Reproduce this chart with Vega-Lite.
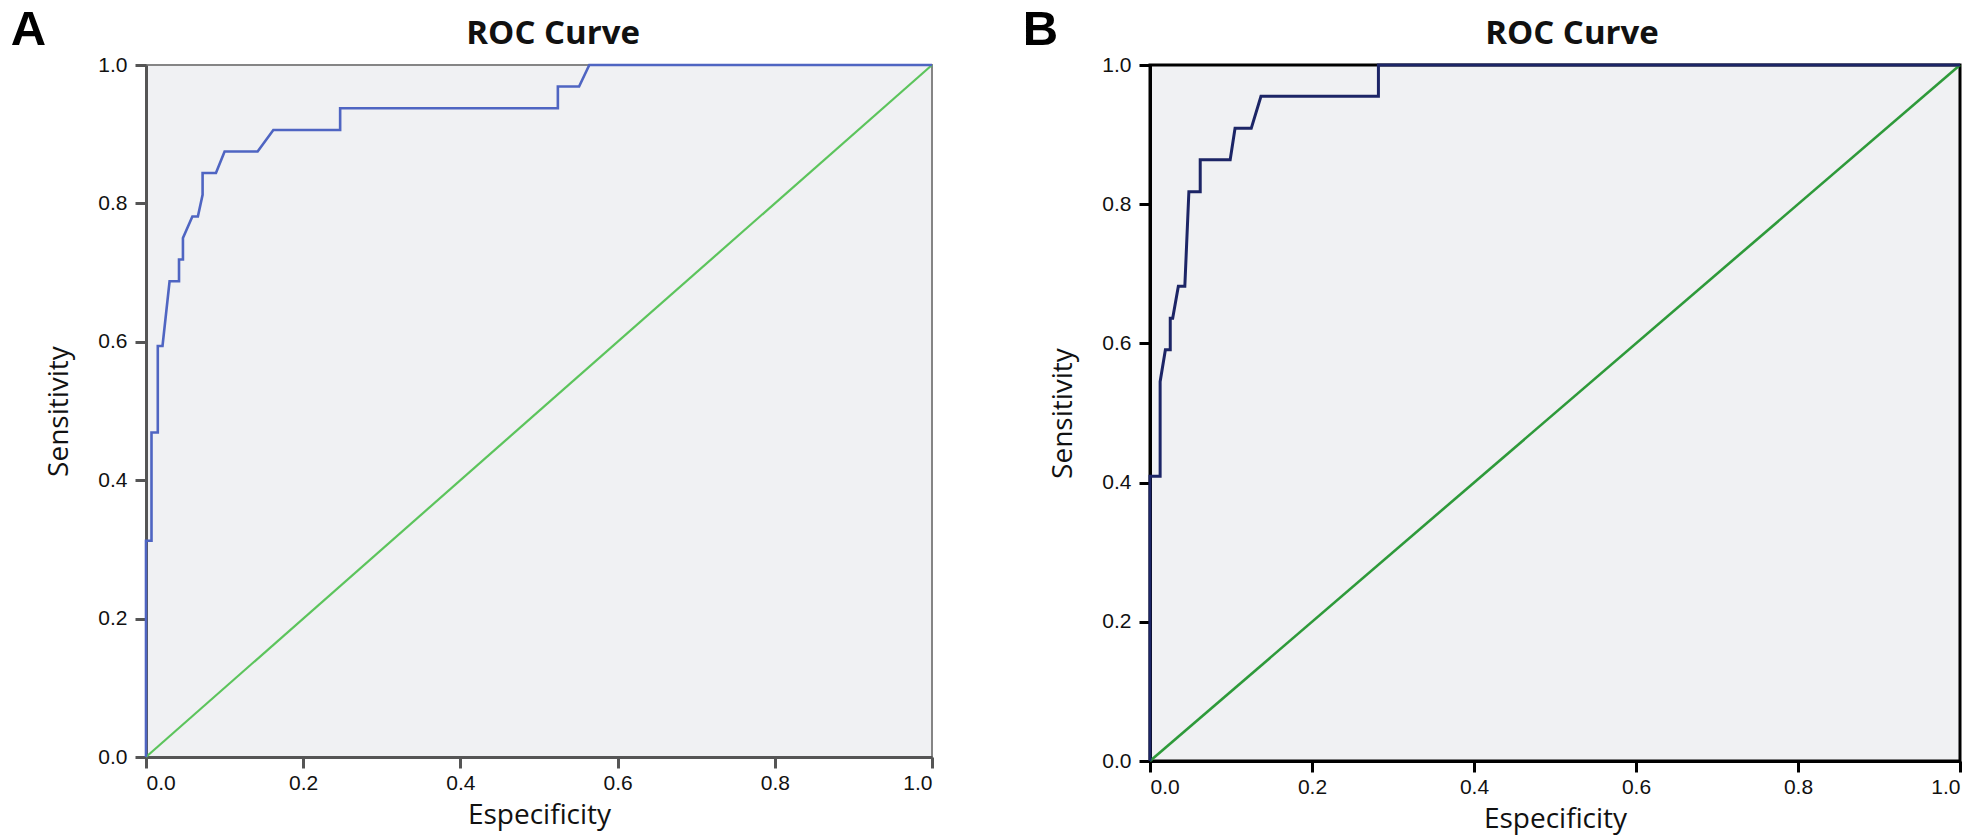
{
  "$schema": "https://vega.github.io/schema/vega-lite/v6.json",
  "background": "white",
  "padding": {"left": 9, "top": 4, "right": 4, "bottom": 0},
  "spacing": 82,
  "datasets": {
    "rocA": [
      {"o": 1, "x": 0, "y": 0},
      {"o": 2, "x": 0, "y": 0.3125},
      {"o": 3, "x": 0.007, "y": 0.3125},
      {"o": 4, "x": 0.007, "y": 0.469},
      {"o": 5, "x": 0.015, "y": 0.469},
      {"o": 6, "x": 0.015, "y": 0.594},
      {"o": 7, "x": 0.021, "y": 0.594},
      {"o": 8, "x": 0.03, "y": 0.6875},
      {"o": 9, "x": 0.042, "y": 0.6875},
      {"o": 10, "x": 0.042, "y": 0.719},
      {"o": 11, "x": 0.047, "y": 0.719},
      {"o": 12, "x": 0.047, "y": 0.75},
      {"o": 13, "x": 0.059, "y": 0.781},
      {"o": 14, "x": 0.066, "y": 0.781},
      {"o": 15, "x": 0.072, "y": 0.8125},
      {"o": 16, "x": 0.072, "y": 0.844},
      {"o": 17, "x": 0.089, "y": 0.844},
      {"o": 18, "x": 0.1, "y": 0.875},
      {"o": 19, "x": 0.142, "y": 0.875},
      {"o": 20, "x": 0.162, "y": 0.906},
      {"o": 21, "x": 0.247, "y": 0.906},
      {"o": 22, "x": 0.247, "y": 0.9375},
      {"o": 23, "x": 0.524, "y": 0.9375},
      {"o": 24, "x": 0.524, "y": 0.969},
      {"o": 25, "x": 0.551, "y": 0.969},
      {"o": 26, "x": 0.564, "y": 1.0},
      {"o": 27, "x": 1.0, "y": 1.0}
    ],
    "rocB": [
      {"o": 1, "x": 0, "y": 0},
      {"o": 2, "x": 0, "y": 0.409},
      {"o": 3, "x": 0.0125, "y": 0.409},
      {"o": 4, "x": 0.0125, "y": 0.545},
      {"o": 5, "x": 0.019, "y": 0.591},
      {"o": 6, "x": 0.025, "y": 0.591},
      {"o": 7, "x": 0.025, "y": 0.636},
      {"o": 8, "x": 0.028, "y": 0.636},
      {"o": 9, "x": 0.035, "y": 0.682},
      {"o": 10, "x": 0.043, "y": 0.682},
      {"o": 11, "x": 0.048, "y": 0.818},
      {"o": 12, "x": 0.062, "y": 0.818},
      {"o": 13, "x": 0.062, "y": 0.864},
      {"o": 14, "x": 0.099, "y": 0.864},
      {"o": 15, "x": 0.105, "y": 0.909},
      {"o": 16, "x": 0.125, "y": 0.909},
      {"o": 17, "x": 0.137, "y": 0.955},
      {"o": 18, "x": 0.282, "y": 0.955},
      {"o": 19, "x": 0.282, "y": 1.0},
      {"o": 20, "x": 1.0, "y": 1.0}
    ],
    "diag": [
      {"o": 1, "x": 0, "y": 0},
      {"o": 2, "x": 1, "y": 1}
    ],
    "letA": [{"t": "A", "x": -0.172, "y": 1.0289}],
    "letB": [{"t": "B", "x": -0.157, "y": 1.0287}],
    "ttlA": [{"t": "ROC Curve", "x": 0.518, "y": 1.0303}],
    "ttlB": [{"t": "ROC Curve", "x": 0.521, "y": 1.0302}]
  },
  "config": {
    "axis": {
      "grid": false,
      "labelFont": "Liberation Sans",
      "labelFontSize": 21,
      "labelColor": "#111",
      "titleFont": "Open Sans",
      "titleFontSize": 28,
      "titleFontWeight": "normal",
      "titleColor": "#111",
      "tickSize": 11,
      "tickWidth": 3,
      "domainWidth": 3
    },
    "axisX": {"labelPadding": 4, "titlePadding": 8},
    "axisY": {"labelPadding": 8, "titlePadding": 24}
  },
  "hconcat": [
    {
      "width": 786,
      "height": 692,
      "view": {"fill": "#f0f1f3", "stroke": "#858585", "strokeWidth": 2},
      "layer": [
        {
          "data": {"name": "diag"},
          "mark": {"type": "line", "color": "#5cc45c", "strokeWidth": 2.2},
          "encoding": {
            "x": {"field": "x", "type": "quantitative", "scale": {"domain": [0, 1]},
              "axis": {"values": [0, 0.2, 0.4, 0.6, 0.8, 1], "format": ".1f", "title": "Especificity", "domainColor": "#555", "tickColor": "#555"}},
            "y": {"field": "y", "type": "quantitative", "scale": {"domain": [0, 1]},
              "axis": {"values": [0, 0.2, 0.4, 0.6, 0.8, 1], "format": ".1f", "title": "Sensitivity", "domainColor": "#555", "tickColor": "#555"}},
            "order": {"field": "o"}
          }
        },
        {
          "data": {"name": "rocA"},
          "mark": {"type": "line", "color": "#4f65c2", "strokeWidth": 2.6},
          "encoding": {
            "x": {"field": "x", "type": "quantitative"},
            "y": {"field": "y", "type": "quantitative"},
            "order": {"field": "o"}
          }
        },
        {
          "data": {"name": "letA"},
          "mark": {"type": "text", "font": "Liberation Sans", "fontSize": 49, "fontWeight": "bold", "align": "left", "baseline": "alphabetic", "color": "#000"},
          "encoding": {
            "x": {"field": "x", "type": "quantitative"},
            "y": {"field": "y", "type": "quantitative"},
            "text": {"field": "t"}
          }
        },
        {
          "data": {"name": "ttlA"},
          "mark": {"type": "text", "font": "Open Sans", "fontSize": 33, "fontWeight": "bold", "align": "center", "baseline": "alphabetic", "color": "#111"},
          "encoding": {
            "x": {"field": "x", "type": "quantitative"},
            "y": {"field": "y", "type": "quantitative"},
            "text": {"field": "t"}
          }
        }
      ]
    },
    {
      "width": 810,
      "height": 696,
      "view": {"fill": "#f0f1f3", "stroke": "#000", "strokeWidth": 3},
      "layer": [
        {
          "data": {"name": "diag"},
          "mark": {"type": "line", "color": "#2e9a3a", "strokeWidth": 2.6},
          "encoding": {
            "x": {"field": "x", "type": "quantitative", "scale": {"domain": [0, 1]},
              "axis": {"values": [0, 0.2, 0.4, 0.6, 0.8, 1], "format": ".1f", "title": "Especificity", "domainColor": "#000", "tickColor": "#000"}},
            "y": {"field": "y", "type": "quantitative", "scale": {"domain": [0, 1]},
              "axis": {"values": [0, 0.2, 0.4, 0.6, 0.8, 1], "format": ".1f", "title": "Sensitivity", "domainColor": "#000", "tickColor": "#000"}},
            "order": {"field": "o"}
          }
        },
        {
          "data": {"name": "rocB"},
          "mark": {"type": "line", "color": "#1c2566", "strokeWidth": 3},
          "encoding": {
            "x": {"field": "x", "type": "quantitative"},
            "y": {"field": "y", "type": "quantitative"},
            "order": {"field": "o"}
          }
        },
        {
          "data": {"name": "letB"},
          "mark": {"type": "text", "font": "Liberation Sans", "fontSize": 49, "fontWeight": "bold", "align": "left", "baseline": "alphabetic", "color": "#000"},
          "encoding": {
            "x": {"field": "x", "type": "quantitative"},
            "y": {"field": "y", "type": "quantitative"},
            "text": {"field": "t"}
          }
        },
        {
          "data": {"name": "ttlB"},
          "mark": {"type": "text", "font": "Open Sans", "fontSize": 33, "fontWeight": "bold", "align": "center", "baseline": "alphabetic", "color": "#111"},
          "encoding": {
            "x": {"field": "x", "type": "quantitative"},
            "y": {"field": "y", "type": "quantitative"},
            "text": {"field": "t"}
          }
        }
      ]
    }
  ]
}
